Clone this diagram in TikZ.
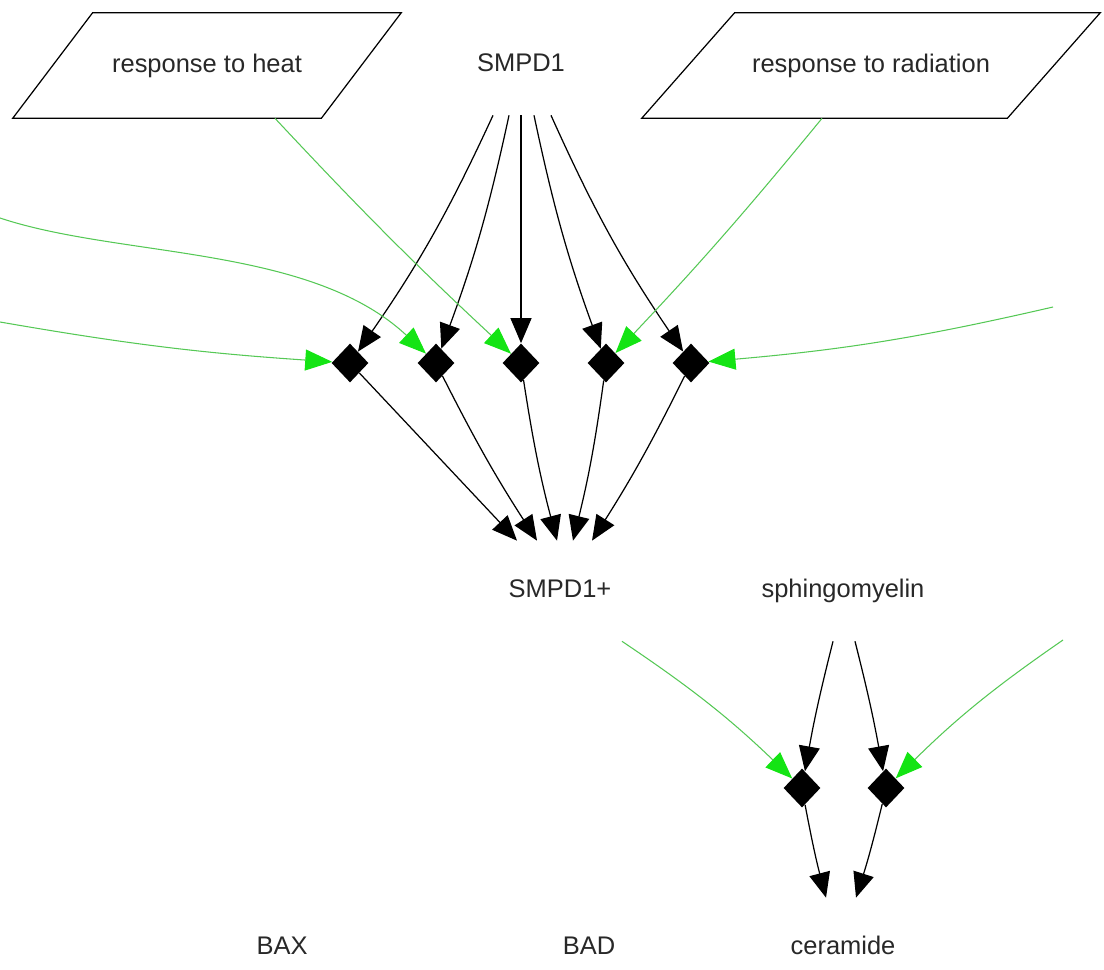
\documentclass[tikz,border=0pt]{standalone}
\usepackage{fontspec}
\setmainfont{Liberation Sans}
\usetikzlibrary{shapes.geometric, arrows.meta, calc}
\definecolor{actline}{RGB}{85,200,85}
\definecolor{acthead}{RGB}{20,228,20}
\definecolor{nametext}{RGB}{40,40,40}

\begin{document}
\begin{tikzpicture}[x=0.02cm, y=-0.02cm,
    species/.style={minimum width=2.4cm, minimum height=2cm, inner sep=0pt,
        text height=10.5pt, text depth=3pt, text=nametext,
        font=\fontsize{14.5}{17}\selectfont},
    process/.style={diamond, fill=black, minimum width=0.74cm, minimum height=0.78cm, inner sep=0pt},
    flow/.style={line width=0.7pt, -{Triangle[length=0.5cm, width=0.42cm]}},
    trigger/.style={actline, line width=0.6pt, -{Triangle[length=0.54cm, width=0.42cm, color=acthead]}}
]
    \useasboundingbox (0,0) rectangle (1104,969);

    % Draw the two stimulus boxes
    \node[species, minimum width=6.16cm, minimum height=2.1cm] (heat) at (207,65.5) {response to heat};
    \draw[line width=0.7pt] ($(heat.south west)+(-40,0)$) -- ($(heat.north west)+(40,0)$)
        -- ($(heat.north east)+(40,0)$) -- ($(heat.south east)+(-40,0)$) -- cycle;
    \node[species, minimum width=7.3cm, minimum height=2.1cm] (radiation) at (871,65.5) {response to radiation};
    \draw[line width=0.7pt] ($(radiation.south west)+(-46.5,0)$) -- ($(radiation.north west)+(46.5,0)$)
        -- ($(radiation.north east)+(46.5,0)$) -- ($(radiation.south east)+(-46.5,0)$) -- cycle;

    % Place the species
    \node[species] (smpd1) at (521,65) {SMPD1};
    \node[species] (smpd1p) at (560,591) {SMPD1+};
    \node[species] (sphingo) at (843,591) {sphingomyelin};
    \node[species] (bax) at (282,948) {BAX};
    \node[species] (bad) at (589,948) {BAD};
    \node[species] (ceramide) at (843,948) {ceramide};

    % Place the reactions
    \node[process] (r1) at (350,363) {};
    \node[process] (r2) at (436,363) {};
    \node[process] (r3) at (521,363) {};
    \node[process] (r4) at (606,363) {};
    \node[process] (r5) at (691,363) {};
    \node[process] (s1) at (802,788) {};
    \node[process] (s2) at (886,788) {};

    % Free ends of the modifiers that come from outside
    \coordinate (westA) at (0,322);
    \coordinate (westB) at (0,218);
    \coordinate (eastA) at (1053,307);
    \coordinate (eastB) at (1063,640);

    % Draw SMPD1 into the reactions
    \draw[flow] ($(smpd1.south)+(-28,0)$) to[bend left=5] (r1);
    \draw[flow] ($(smpd1.south)+(-12,0)$) to[bend left=4] (r2);
    \draw[flow] (smpd1.south) -- (r3);
    \draw[flow] ($(smpd1.south)+(13,0)$) to[bend right=4] (r4);
    \draw[flow] ($(smpd1.south)+(30,0)$) to[bend right=5] (r5);

    % Draw the reactions into SMPD1+
    \draw[flow] (r1) -- ($(smpd1p.north)+(-43,0)$);
    \draw[flow] (r2) to[bend right=3] ($(smpd1p.north)+(-23,0)$);
    \draw[flow] (r3) to[bend right=3] ($(smpd1p.north)+(-3,0)$);
    \draw[flow] (r4) to[bend left=3] ($(smpd1p.north)+(13,0)$);
    \draw[flow] (r5) to[bend left=3] ($(smpd1p.north)+(32,0)$);

    % Draw the modifiers of the upper reactions
    \draw[trigger] (westA) to[bend right=3] (r1);
    \draw[trigger] (westB) .. controls (120,258) and (310,245) .. (r2);
    \draw[trigger] ($(heat.south)+(68,0)$) to[bend right=2] (r3);
    \draw[trigger] ($(radiation.south)+(-49,0)$) to[bend left=2] (r4);
    \draw[trigger] (eastA) to[bend left=4] (r5);

    % Draw sphingomyelin into ceramide
    \draw[flow] ($(sphingo.south)+(-10,0)$) to[bend right=2] (s1);
    \draw[flow] ($(sphingo.south)+(12,0)$) to[bend left=2] (s2);
    \draw[flow] (s1) to[bend right=2] ($(ceramide.north)+(-17,0)$);
    \draw[flow] (s2) to[bend left=2] ($(ceramide.north)+(13,0)$);
    \draw[trigger] ($(smpd1p.south)+(62,0)$) to[bend left=5] (s1);
    \draw[trigger] (eastB) to[bend right=5] (s2);

\end{tikzpicture}
\end{document}
